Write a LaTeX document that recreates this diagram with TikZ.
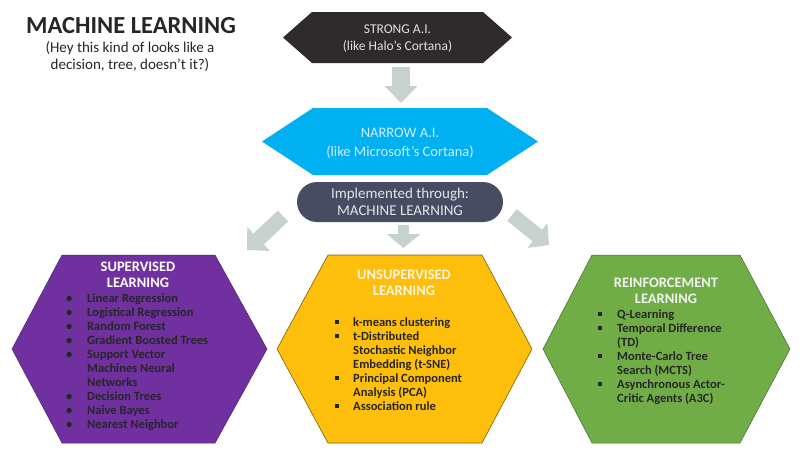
\documentclass[tikz,border=0pt]{standalone}
\usepackage{fontspec}
\setmainfont{Carlito}
\usetikzlibrary{arrows.meta}

\definecolor{strongfill}{HTML}{2F2B2C}
\definecolor{narrowfill}{HTML}{00B0F0}
\definecolor{pillfill}{HTML}{474C63}
\definecolor{arrowgrey}{HTML}{C8D2CD}
\definecolor{supfill}{HTML}{7030A0}
\definecolor{unsupfill}{HTML}{FDBF0B}
\definecolor{reinfill}{HTML}{70AD47}
\definecolor{listtext}{HTML}{262626}
\definecolor{titletext}{HTML}{262626}

\newcommand{\rbul}{\textbullet}
\newcommand{\sbul}{\raisebox{2.2pt}{\rule{3.5pt}{3.5pt}}}

\tikzset{
  bigarrow/.style={draw=arrowgrey, line width=#1},
  boxtext/.style={align=center, inner sep=0pt, font=\fontsize{13.5}{17}\selectfont},
  headtext/.style={align=center, inner sep=0pt, font=\bfseries\fontsize{14.5}{16}\selectfont},
  listtext/.style={anchor=north west, inner sep=0pt, text=listtext,
    font=\bfseries\fontsize{12.5}{14}\selectfont}
}

\begin{document}
\begin{tikzpicture}[x=1pt, y=-1pt]
  % Rahmen in Pixelgroesse
  \useasboundingbox (0,0) rectangle (800,450);
  \fill[white] (0,0) rectangle (800,450);

  % Titel oben links
  \node[inner sep=0pt, text=titletext, font=\bfseries\fontsize{24.5}{26}\selectfont] (title) at (131,26) {MACHINE LEARNING};
  \node[boxtext, font=\fontsize{15}{17}\selectfont, text=titletext] (subtitle) at (130,57)
    {(Hey this kind of looks like a\\decision, tree, doesn’t it?)};

  % Pfeile
  \coordinate (a1s) at (401,67);   \coordinate (a1e) at (401,103);
  \coordinate (a2s) at (283,216);  \coordinate (a2e) at (247,250);
  \coordinate (a3s) at (403.5,225);\coordinate (a3e) at (403.5,248);
  \coordinate (a4s) at (512,215);  \coordinate (a4e) at (549,245);
  \draw[bigarrow=18pt, -{Triangle[length=17pt, width=32pt]}] (a1s) -- (a1e);
  \draw[bigarrow=15pt, -{Triangle[length=16pt, width=32pt]}] (a2s) -- (a2e);
  \draw[bigarrow=11pt, -{Triangle[length=14pt, width=33pt]}] (a3s) -- (a3e);
  \draw[bigarrow=15pt, -{Triangle[length=15pt, width=31pt]}] (a4s) -- (a4e);

  % Sechsecke oben
  \fill[strongfill] (283,37.5) -- (312,12) -- (483,12) -- (512,37.5) -- (483,63) -- (312,63) -- cycle;
  \node[boxtext, text=white!88!black] (strong) at (397.5,38.5) {STRONG A.I.\\(like Halo’s Cortana)};

  \fill[narrowfill] (262,141.5) -- (313,108) -- (487,108) -- (538,141.5) -- (487,175) -- (313,175) -- cycle;
  \node[boxtext, font=\fontsize{14.5}{19}\selectfont, text=white!80!narrowfill] (narrow) at (400,143)
    {NARROW A.I.\\(like Microsoft’s Cortana)};

  % Pille
  \fill[pillfill, rounded corners=20pt] (297,182) rectangle (503,222);
  \node[boxtext, font=\fontsize{15}{17}\selectfont, text=white!90!black] (ml) at (400,202)
    {Implemented through:\\MACHINE LEARNING};

  % Sechsecke unten
  \filldraw[fill=supfill, draw=supfill!70!black, line width=0.5pt]
    (12,349) -- (62,255) -- (215,255) -- (267,349) -- (215,443) -- (62,443) -- cycle;
  \filldraw[fill=unsupfill, draw=unsupfill!50!black, line width=0.6pt]
    (277,349) -- (328,255) -- (482,255) -- (532,349) -- (482,443) -- (328,443) -- cycle;
  \filldraw[fill=reinfill, draw=reinfill!60!black, line width=0.5pt]
    (543,349) -- (592,255) -- (740,255) -- (790,349) -- (740,443) -- (592,443) -- cycle;

  % Ueberschriften
  \node[headtext, text=white] (suphead) at (138,275) {SUPERVISED\\LEARNING};
  \node[headtext, text=white!85!unsupfill] (unsuphead) at (404,283) {UNSUPERVISED\\LEARNING};
  \node[headtext, text=white!95!black] (reinhead) at (666,291) {REINFORCEMENT\\LEARNING};

  % Listen
  \node[listtext] (suplist) at (66,292) {\begin{tabular}{@{}p{21pt}@{}l@{}}
    \rbul & Linear Regression\\
    \rbul & Logistical Regression\\
    \rbul & Random Forest\\
    \rbul & Gradient Boosted Trees\\
    \rbul & Support Vector\\
          & Machines Neural\\
          & Networks\\
    \rbul & Decision Trees\\
    \rbul & Naive Bayes\\
    \rbul & Nearest Neighbor
  \end{tabular}};
  \node[listtext] (unsuplist) at (335,316) {\begin{tabular}{@{}p{18pt}@{}l@{}}
    \sbul & k-means clustering\\
    \sbul & t-Distributed\\
          & Stochastic Neighbor\\
          & Embedding (t-SNE)\\
    \sbul & Principal Component\\
          & Analysis (PCA)\\
    \sbul & Association rule
  \end{tabular}};
  \node[listtext] (reinlist) at (598,308) {\begin{tabular}{@{}p{19pt}@{}l@{}}
    \sbul & Q-Learning\\
    \sbul & Temporal Difference\\
          & (TD)\\
    \sbul & Monte-Carlo Tree\\
          & Search (MCTS)\\
    \sbul & Asynchronous Actor-\\
          & Critic Agents (A3C)
  \end{tabular}};
\end{tikzpicture}
\end{document}
